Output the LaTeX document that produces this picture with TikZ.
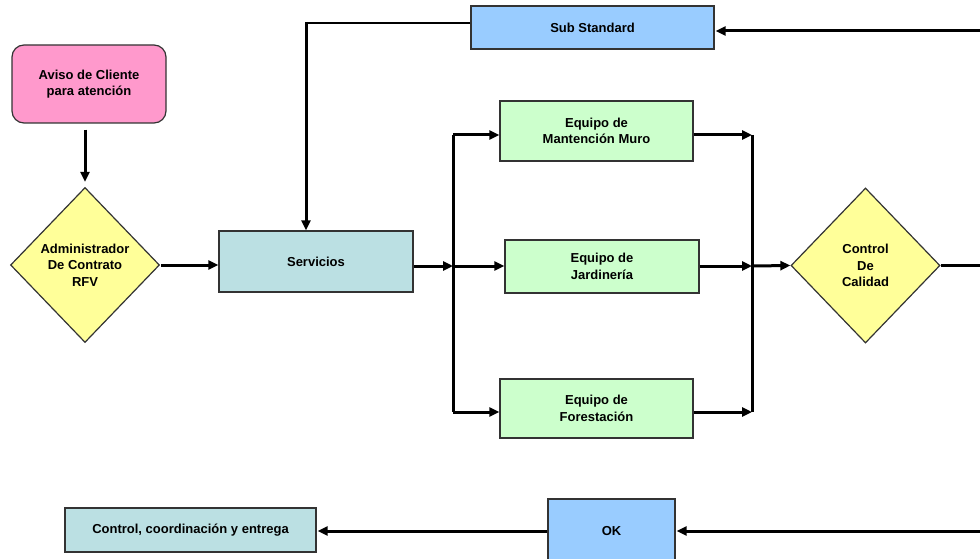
\documentclass[tikz,border=0pt]{standalone}
\usepackage{fontspec}
\setmainfont{Liberation Sans}
\usetikzlibrary{shapes.geometric,arrows.meta}
\definecolor{pinkc}{HTML}{FF99CC}
\definecolor{yelc}{HTML}{FFFF99}
\definecolor{tealc}{HTML}{BBE0E3}
\definecolor{greenc}{HTML}{CCFFCC}
\definecolor{bluec}{HTML}{99CCFF}
\tikzset{
  box/.style={draw=black!80, line width=1.2pt, align=center, font=\bfseries\fontsize{13}{16.5}\selectfont, inner sep=0pt},
  dia/.style={box, diamond, fill=yelc, aspect=0.96},
  conn/.style={line width=3pt, -{Triangle[length=10pt,width=9pt]}},
  line/.style={line width=3pt}
}
\begin{document}
\begin{tikzpicture}[x=1pt,y=-1pt]
\useasboundingbox (0,0) rectangle (980,559);
\clip (0,0) rectangle (980,559);
% nodes
\node[box, rounded corners=12pt, fill=pinkc, minimum width=154pt, minimum height=78pt] (aviso) at (89,84) {Aviso de Cliente\\para atención};
\node[dia, minimum width=149pt, minimum height=155pt] (admin) at (85,265) {Administrador\\De Contrato\\RFV};
\node[box, fill=tealc, minimum width=194pt, minimum height=61pt] (serv) at (316,261.5) {Servicios};
\node[box, fill=bluec, minimum width=243pt, minimum height=43pt] (sub) at (592.5,27.5) {Sub Standard};
\node[box, fill=greenc, minimum width=193pt, minimum height=60pt] (mant) at (596.5,131) {Equipo de\\Mantención Muro};
\node[box, fill=greenc, minimum width=194pt, minimum height=53pt] (jard) at (602,266.5) {Equipo de\\Jardinería};
\node[box, fill=greenc, minimum width=193pt, minimum height=59pt] (fore) at (596.5,408.5) {Equipo de\\Forestación};
\node[dia, minimum width=149pt, minimum height=155pt] (ctrl) at (865.5,265.5) {Control\\De\\Calidad};
\node[box, fill=bluec, minimum width=127pt, minimum height=80pt] (ok) at (611.5,539) {};
\node[font=\bfseries\fontsize{13}{16.5}\selectfont] (oklbl) at (611.5,531) {OK};
\node[box, fill=tealc, minimum width=251pt, minimum height=44pt] (entrega) at (190.5,530) {Control, coordinación y entrega};
% coordinates
\coordinate (bl) at (453,135);
\coordinate (bm) at (453,266);
\coordinate (bb) at (453,412);
\coordinate (rl) at (752,135);
\coordinate (rm) at (752,266);
\coordinate (rb) at (752,412);
\coordinate (subin) at (985,31);
\coordinate (ctrlout) at (985,265.5);
\coordinate (okin) at (985,531);
\coordinate (corner) at (306,23);
\coordinate (avisoout) at (admin.north |- aviso.south);
% connectors
\draw[conn] ([yshift=-6pt]avisoout) -- ([yshift=5pt]admin.north);
\draw[conn] ([xshift=1pt]admin.east) -- (serv.west |- admin.east);
\draw[conn] (subin) -- ([xshift=1pt]sub.east |- subin);
\draw[line, line width=2.4pt] (sub.west |- corner) -- (corner);
\draw[conn] ([yshift=1pt]corner) -- (corner |- serv.north);
\draw[conn] (serv.east |- bm) -- (bm);
\draw[line] (bl) -- (bb);
\draw[conn] (bl) -- (mant.west |- bl);
\draw[conn] (bm) -- (jard.west |- bm);
\draw[conn] (bb) -- (fore.west |- bb);
\draw[conn] (mant.east |- rl) -- (rl);
\draw[conn] (jard.east |- rm) -- (rm);
\draw[conn] (fore.east |- rb) -- (rb);
\draw[line] (rl) -- (rb);
\draw[conn] (rm) -- (ctrl.west);
\draw[line] (ctrl.east) -- (ctrlout);
\draw[conn] (okin) -- ([xshift=1pt]ok.east |- okin);
\draw[conn] (ok.west |- okin) -- ([xshift=1pt]entrega.east |- okin);
\end{tikzpicture}
\end{document}
